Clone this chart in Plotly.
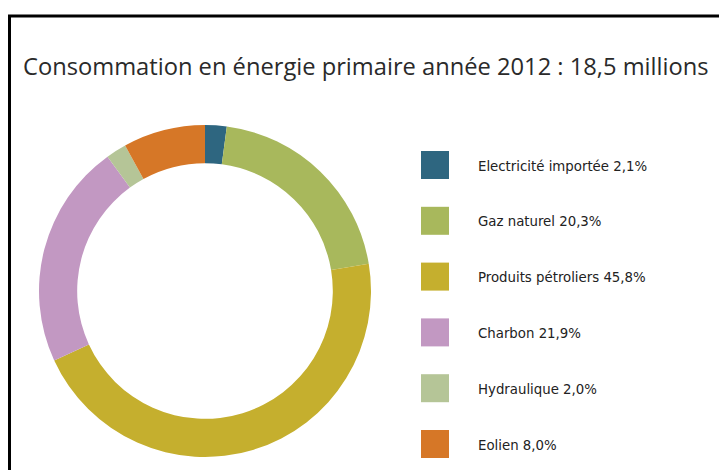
import plotly.graph_objects as go

W, H = 719, 470

title_text = "Consommation en énergie primaire année 2012 : 18,5 millions"
labels = ["Electricité importée", "Gaz naturel", "Produits pétroliers",
          "Charbon", "Hydraulique", "Eolien"]
legend_texts = ["Electricité importée 2,1%", "Gaz naturel 20,3%",
                "Produits pétroliers 45,8%", "Charbon 21,9%",
                "Hydraulique 2,0%", "Eolien 8,0%"]
values = [2.1, 20.3, 45.8, 21.9, 2.0, 8.0]
colors = ["#2E6680", "#A8B85C", "#C5AF2E", "#C298C2", "#B5C597", "#D67727"]


def px(x):
    return x / W


def py(y):
    return 1 - y / H


cx, cy, r = 205, 291, 166

fig = go.Figure(go.Pie(
    labels=labels,
    values=values,
    hole=0.77,
    sort=False,
    direction="clockwise",
    rotation=0,
    marker=dict(colors=colors, line=dict(width=0)),
    textinfo="none",
    showlegend=False,
    domain=dict(x=[px(cx - r), px(cx + r)], y=[py(cy + r), py(cy - r)]),
))

shapes = [
    dict(type="path", xref="paper", yref="paper",
         path=f"M {px(9.5)} {py(472)} L {px(9.5)} {py(16)} L {px(721)} {py(16)}",
         line=dict(color="black", width=3)),
]
annotations = [
    dict(text=title_text, xref="paper", yref="paper", x=px(21), y=py(66),
         xanchor="left", yanchor="middle", showarrow=False,
         font=dict(family="Open Sans, sans-serif", size=23.7, color="#2a2a2a")),
]

for i, (t, c) in enumerate(zip(legend_texts, colors)):
    top = 151 + 55.8 * i
    shapes.append(dict(type="rect", xref="paper", yref="paper",
                       x0=px(421), x1=px(449), y0=py(top), y1=py(top + 28),
                       fillcolor=c, line=dict(width=0)))
    annotations.append(dict(text=t, xref="paper", yref="paper",
                            x=px(476), y=py(top + 14), xanchor="left",
                            yanchor="middle", showarrow=False,
                            font=dict(family="Liberation Sans Narrow, DejaVu Sans Condensed, Arial Narrow, sans-serif",
                                      size=14.8, color="#222222")))

fig.update_layout(
    width=W, height=H,
    margin=dict(l=0, r=0, t=0, b=0),
    paper_bgcolor="white", plot_bgcolor="white",
    shapes=shapes, annotations=annotations,
)

fig.write_html("out.html",
               config={"displayModeBar": False},
               post_script="document.body.style.margin='0';document.body.style.overflow='hidden';")
